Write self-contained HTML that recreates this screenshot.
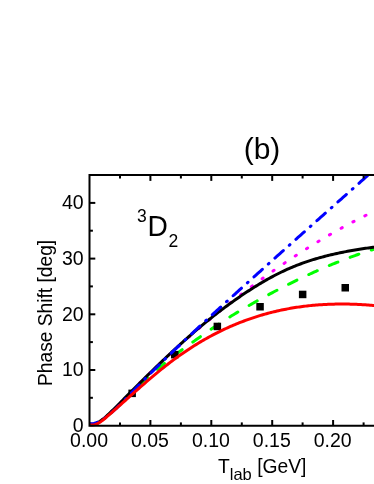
<!DOCTYPE html>
<html><head><meta charset="utf-8"><title>3D2 phase shift</title>
<style>
html,body{margin:0;padding:0;background:#fff;}
body{width:374px;height:484px;overflow:hidden;}
svg{display:block;will-change:transform;}
text{font-family:"Liberation Sans",sans-serif;fill:#000;}
</style></head>
<body>
<svg width="374" height="484" viewBox="0 0 374 484">
<defs><clipPath id="c"><rect x="89.5" y="175.1" width="300" height="252.2"/></clipPath></defs>
<g clip-path="url(#c)" fill="none" stroke-width="3" stroke-linejoin="round">
<path d="M89.5,424.04 L91.0,424.17 L92.5,424.11 L94.0,423.87 L95.5,423.46 L97.0,422.90 L98.5,422.19 L100.0,421.36 L101.5,420.40 L103.0,419.34 L104.5,418.18 L106.0,416.94 L107.5,415.63 L109.0,414.26 L110.5,412.84 L112.0,411.38 L113.5,409.87 L115.0,408.34 L116.5,406.78 L118.0,405.21 L119.5,403.63 L121.0,402.06 L122.5,400.49 L124.0,398.92 L125.5,397.36 L127.0,395.81 L128.5,394.27 L130.0,392.73 L131.5,391.20 L133.0,389.67 L134.5,388.15 L136.0,386.64 L137.5,385.14 L139.0,383.64 L140.5,382.14 L142.0,380.66 L143.5,379.18 L145.0,377.70 L146.5,376.24 L148.0,374.78 L149.5,373.32 L151.0,371.87 L152.5,370.43 L154.0,368.99 L155.5,367.56 L157.0,366.13 L158.5,364.71 L160.0,363.30 L161.5,361.89 L163.0,360.49 L164.5,359.09 L166.0,357.70 L167.5,356.32 L169.0,354.94 L170.5,353.56 L172.0,352.20 L173.5,350.83 L175.0,349.48 L176.5,348.12 L178.0,346.78 L179.5,345.43 L181.0,344.10 L182.5,342.77 L184.0,341.44 L185.5,340.12 L187.0,338.80 L188.5,337.49 L190.0,336.19 L191.5,334.89 L193.0,333.59 L194.5,332.30 L196.0,331.01 L197.5,329.73 L199.0,328.45 L200.5,327.18 L202.0,325.92 L203.5,324.65 L205.0,323.39 L206.5,322.14 L208.0,320.89 L209.5,319.65 L211.0,318.41 L212.5,317.17 L214.0,315.94 L215.5,314.71 L217.0,313.49 L218.5,312.27 L220.0,311.06 L221.5,309.85 L223.0,308.64 L224.5,307.44 L226.0,306.25 L227.5,305.05 L229.0,303.87 L230.5,302.68 L232.0,301.51 L233.5,300.33 L235.0,299.16 L236.5,298.00 L238.0,296.84 L239.5,295.68 L241.0,294.53 L242.5,293.38 L244.0,292.24 L245.5,291.10 L247.0,289.97 L248.5,288.84 L250.0,287.71 L251.5,286.59 L253.0,285.48 L254.5,284.37 L256.0,283.26 L257.5,282.16 L259.0,281.07 L260.5,279.97 L262.0,278.89 L263.5,277.80 L265.0,276.72 L266.5,275.65 L268.0,274.58 L269.5,273.52 L271.0,272.46 L272.5,271.40 L274.0,270.35 L275.5,269.31 L277.0,268.27 L278.5,267.23 L280.0,266.20 L281.5,265.17 L283.0,264.15 L284.5,263.13 L286.0,262.12 L287.5,261.11 L289.0,260.11 L290.5,259.11 L292.0,258.12 L293.5,257.13 L295.0,256.15 L296.5,255.17 L298.0,254.19 L299.5,253.22 L301.0,252.26 L302.5,251.30 L304.0,250.34 L305.5,249.39 L307.0,248.45 L308.5,247.51 L310.0,246.57 L311.5,245.64 L313.0,244.72 L314.5,243.80 L316.0,242.88 L317.5,241.97 L319.0,241.07 L320.5,240.16 L322.0,239.27 L323.5,238.38 L325.0,237.49 L326.5,236.61 L328.0,235.73 L329.5,234.86 L331.0,234.00 L332.5,233.14 L334.0,232.28 L335.5,231.43 L337.0,230.58 L338.5,229.74 L340.0,228.91 L341.5,228.08 L343.0,227.25 L344.5,226.43 L346.0,225.61 L347.5,224.80 L349.0,224.00 L350.5,223.20 L352.0,222.40 L353.5,221.61 L355.0,220.83 L356.5,220.05 L358.0,219.27 L359.5,218.50 L361.0,217.74 L362.5,216.98 L364.0,216.23 L365.5,215.48 L367.0,214.73 L368.5,214.00 L370.0,213.26 L371.5,212.54 L373.0,211.81 L374.5,211.09 L376.0,210.38 L377.5,209.68" stroke="#ff00ff" stroke-linecap="round" stroke-dasharray="1.3 12.1" stroke-dashoffset="0.5"/>
<path d="M89.5,424.39 L91.0,424.58 L92.5,424.54 L94.0,424.32 L95.5,423.91 L97.0,423.34 L98.5,422.61 L100.0,421.76 L101.5,420.78 L103.0,419.69 L104.5,418.52 L106.0,417.26 L107.5,415.94 L109.0,414.56 L110.5,413.13 L112.0,411.67 L113.5,410.19 L115.0,408.70 L116.5,407.21 L118.0,405.72 L119.5,404.25 L121.0,402.79 L122.5,401.34 L124.0,399.90 L125.5,398.46 L127.0,397.04 L128.5,395.62 L130.0,394.20 L131.5,392.80 L133.0,391.40 L134.5,390.00 L136.0,388.61 L137.5,387.23 L139.0,385.84 L140.5,384.47 L142.0,383.09 L143.5,381.72 L145.0,380.36 L146.5,379.00 L148.0,377.64 L149.5,376.29 L151.0,374.95 L152.5,373.61 L154.0,372.28 L155.5,370.96 L157.0,369.66 L158.5,368.36 L160.0,367.07 L161.5,365.79 L163.0,364.53 L164.5,363.28 L166.0,362.05 L167.5,360.82 L169.0,359.62 L170.5,358.43 L172.0,357.26 L173.5,356.10 L175.0,354.96 L176.5,353.83 L178.0,352.72 L179.5,351.62 L181.0,350.52 L182.5,349.44 L184.0,348.36 L185.5,347.28 L187.0,346.21 L188.5,345.14 L190.0,344.08 L191.5,343.02 L193.0,341.95 L194.5,340.89 L196.0,339.83 L197.5,338.76 L199.0,337.69 L200.5,336.62 L202.0,335.56 L203.5,334.49 L205.0,333.43 L206.5,332.37 L208.0,331.32 L209.5,330.28 L211.0,329.24 L212.5,328.21 L214.0,327.19 L215.5,326.18 L217.0,325.18 L218.5,324.19 L220.0,323.20 L221.5,322.22 L223.0,321.25 L224.5,320.29 L226.0,319.34 L227.5,318.39 L229.0,317.45 L230.5,316.52 L232.0,315.59 L233.5,314.67 L235.0,313.76 L236.5,312.85 L238.0,311.95 L239.5,311.06 L241.0,310.17 L242.5,309.28 L244.0,308.41 L245.5,307.53 L247.0,306.67 L248.5,305.80 L250.0,304.95 L251.5,304.09 L253.0,303.24 L254.5,302.40 L256.0,301.56 L257.5,300.72 L259.0,299.89 L260.5,299.06 L262.0,298.24 L263.5,297.42 L265.0,296.60 L266.5,295.78 L268.0,294.98 L269.5,294.17 L271.0,293.37 L272.5,292.57 L274.0,291.78 L275.5,290.99 L277.0,290.20 L278.5,289.42 L280.0,288.64 L281.5,287.87 L283.0,287.10 L284.5,286.33 L286.0,285.57 L287.5,284.82 L289.0,284.06 L290.5,283.31 L292.0,282.57 L293.5,281.83 L295.0,281.10 L296.5,280.37 L298.0,279.64 L299.5,278.92 L301.0,278.20 L302.5,277.49 L304.0,276.78 L305.5,276.07 L307.0,275.37 L308.5,274.68 L310.0,273.99 L311.5,273.30 L313.0,272.62 L314.5,271.95 L316.0,271.28 L317.5,270.61 L319.0,269.95 L320.5,269.29 L322.0,268.64 L323.5,267.99 L325.0,267.35 L326.5,266.71 L328.0,266.08 L329.5,265.45 L331.0,264.83 L332.5,264.21 L334.0,263.60 L335.5,262.99 L337.0,262.39 L338.5,261.79 L340.0,261.20 L341.5,260.61 L343.0,260.03 L344.5,259.45 L346.0,258.88 L347.5,258.31 L349.0,257.75 L350.5,257.20 L352.0,256.65 L353.5,256.10 L355.0,255.56 L356.5,255.03 L358.0,254.50 L359.5,253.98 L361.0,253.46 L362.5,252.95 L364.0,252.44 L365.5,251.94 L367.0,251.44 L368.5,250.95 L370.0,250.47 L371.5,249.99 L373.0,249.52 L374.5,249.05 L376.0,248.59 L377.5,248.14" stroke="#00ff00" stroke-linecap="round" stroke-dasharray="9.3 13.1" stroke-dashoffset="0.8"/>
<g fill="#000" stroke="none"><rect x="128.4" y="389.6" width="7.5" height="7.5"/><rect x="171.0" y="350.9" width="7.5" height="7.5"/><rect x="213.6" y="322.7" width="7.5" height="7.5"/><rect x="256.3" y="303.0" width="7.5" height="7.5"/><rect x="298.9" y="290.7" width="7.5" height="7.5"/><rect x="341.5" y="284.0" width="7.5" height="7.5"/></g>
<path d="M89.5,423.96 L91.0,424.20 L92.5,424.20 L94.0,423.97 L95.5,423.54 L97.0,422.93 L98.5,422.16 L100.0,421.25 L101.5,420.20 L103.0,419.06 L104.5,417.83 L106.0,416.53 L107.5,415.18 L109.0,413.80 L110.5,412.39 L112.0,410.94 L113.5,409.48 L115.0,408.00 L116.5,406.50 L118.0,404.99 L119.5,403.47 L121.0,401.96 L122.5,400.44 L124.0,398.92 L125.5,397.41 L127.0,395.89 L128.5,394.38 L130.0,392.87 L131.5,391.36 L133.0,389.86 L134.5,388.35 L136.0,386.85 L137.5,385.35 L139.0,383.86 L140.5,382.36 L142.0,380.87 L143.5,379.39 L145.0,377.90 L146.5,376.42 L148.0,374.94 L149.5,373.47 L151.0,372.00 L152.5,370.54 L154.0,369.08 L155.5,367.62 L157.0,366.17 L158.5,364.72 L160.0,363.28 L161.5,361.84 L163.0,360.40 L164.5,358.98 L166.0,357.55 L167.5,356.14 L169.0,354.72 L170.5,353.32 L172.0,351.92 L173.5,350.52 L175.0,349.14 L176.5,347.76 L178.0,346.38 L179.5,345.01 L181.0,343.65 L182.5,342.30 L184.0,340.95 L185.5,339.61 L187.0,338.27 L188.5,336.95 L190.0,335.63 L191.5,334.32 L193.0,333.02 L194.5,331.72 L196.0,330.44 L197.5,329.16 L199.0,327.89 L200.5,326.63 L202.0,325.38 L203.5,324.13 L205.0,322.90 L206.5,321.67 L208.0,320.46 L209.5,319.25 L211.0,318.05 L212.5,316.86 L214.0,315.68 L215.5,314.50 L217.0,313.34 L218.5,312.18 L220.0,311.04 L221.5,309.90 L223.0,308.77 L224.5,307.65 L226.0,306.53 L227.5,305.43 L229.0,304.33 L230.5,303.25 L232.0,302.17 L233.5,301.10 L235.0,300.04 L236.5,298.98 L238.0,297.94 L239.5,296.91 L241.0,295.88 L242.5,294.86 L244.0,293.85 L245.5,292.85 L247.0,291.86 L248.5,290.88 L250.0,289.90 L251.5,288.94 L253.0,287.99 L254.5,287.04 L256.0,286.11 L257.5,285.18 L259.0,284.27 L260.5,283.37 L262.0,282.48 L263.5,281.60 L265.0,280.73 L266.5,279.87 L268.0,279.03 L269.5,278.20 L271.0,277.38 L272.5,276.57 L274.0,275.77 L275.5,274.99 L277.0,274.22 L278.5,273.47 L280.0,272.73 L281.5,272.00 L283.0,271.28 L284.5,270.58 L286.0,269.90 L287.5,269.22 L289.0,268.57 L290.5,267.92 L292.0,267.29 L293.5,266.67 L295.0,266.06 L296.5,265.47 L298.0,264.88 L299.5,264.31 L301.0,263.75 L302.5,263.21 L304.0,262.67 L305.5,262.15 L307.0,261.64 L308.5,261.13 L310.0,260.64 L311.5,260.16 L313.0,259.69 L314.5,259.23 L316.0,258.78 L317.5,258.34 L319.0,257.91 L320.5,257.49 L322.0,257.08 L323.5,256.68 L325.0,256.29 L326.5,255.90 L328.0,255.53 L329.5,255.16 L331.0,254.80 L332.5,254.45 L334.0,254.10 L335.5,253.77 L337.0,253.44 L338.5,253.12 L340.0,252.80 L341.5,252.50 L343.0,252.20 L344.5,251.90 L346.0,251.61 L347.5,251.33 L349.0,251.05 L350.5,250.78 L352.0,250.52 L353.5,250.26 L355.0,250.00 L356.5,249.76 L358.0,249.51 L359.5,249.27 L361.0,249.03 L362.5,248.80 L364.0,248.58 L365.5,248.35 L367.0,248.13 L368.5,247.91 L370.0,247.70 L371.5,247.49 L373.0,247.28 L374.5,247.08 L376.0,246.88 L377.5,246.68" stroke="#000"/>
<path d="M89.5,423.66 L91.0,423.75 L92.5,423.67 L94.0,423.43 L95.5,423.05 L97.0,422.53 L98.5,421.88 L100.0,421.13 L101.5,420.27 L103.0,419.32 L104.5,418.28 L106.0,417.18 L107.5,416.02 L109.0,414.81 L110.5,413.55 L112.0,412.24 L113.5,410.90 L115.0,409.52 L116.5,408.10 L118.0,406.65 L119.5,405.17 L121.0,403.67 L122.5,402.16 L124.0,400.62 L125.5,399.07 L127.0,397.51 L128.5,395.95 L130.0,394.38 L131.5,392.82 L133.0,391.25 L134.5,389.70 L136.0,388.15 L137.5,386.60 L139.0,385.06 L140.5,383.53 L142.0,382.00 L143.5,380.47 L145.0,378.96 L146.5,377.44 L148.0,375.93 L149.5,374.43 L151.0,372.93 L152.5,371.43 L154.0,369.94 L155.5,368.46 L157.0,366.97 L158.5,365.50 L160.0,364.02 L161.5,362.55 L163.0,361.09 L164.5,359.63 L166.0,358.17 L167.5,356.72 L169.0,355.27 L170.5,353.82 L172.0,352.38 L173.5,350.94 L175.0,349.51 L176.5,348.07 L178.0,346.65 L179.5,345.22 L181.0,343.80 L182.5,342.38 L184.0,340.96 L185.5,339.55 L187.0,338.14 L188.5,336.73 L190.0,335.33 L191.5,333.93 L193.0,332.53 L194.5,331.13 L196.0,329.73 L197.5,328.34 L199.0,326.95 L200.5,325.56 L202.0,324.17 L203.5,322.79 L205.0,321.41 L206.5,320.03 L208.0,318.65 L209.5,317.27 L211.0,315.89 L212.5,314.52 L214.0,313.14 L215.5,311.77 L217.0,310.40 L218.5,309.03 L220.0,307.66 L221.5,306.30 L223.0,304.93 L224.5,303.56 L226.0,302.20 L227.5,300.84 L229.0,299.47 L230.5,298.11 L232.0,296.75 L233.5,295.39 L235.0,294.03 L236.5,292.67 L238.0,291.31 L239.5,289.95 L241.0,288.60 L242.5,287.24 L244.0,285.89 L245.5,284.53 L247.0,283.18 L248.5,281.83 L250.0,280.47 L251.5,279.12 L253.0,277.77 L254.5,276.42 L256.0,275.07 L257.5,273.72 L259.0,272.37 L260.5,271.03 L262.0,269.68 L263.5,268.33 L265.0,266.99 L266.5,265.64 L268.0,264.30 L269.5,262.95 L271.0,261.61 L272.5,260.26 L274.0,258.92 L275.5,257.58 L277.0,256.24 L278.5,254.90 L280.0,253.56 L281.5,252.21 L283.0,250.87 L284.5,249.53 L286.0,248.20 L287.5,246.86 L289.0,245.52 L290.5,244.18 L292.0,242.84 L293.5,241.50 L295.0,240.17 L296.5,238.83 L298.0,237.49 L299.5,236.16 L301.0,234.82 L302.5,233.49 L304.0,232.15 L305.5,230.82 L307.0,229.48 L308.5,228.15 L310.0,226.81 L311.5,225.48 L313.0,224.14 L314.5,222.81 L316.0,221.48 L317.5,220.14 L319.0,218.81 L320.5,217.47 L322.0,216.14 L323.5,214.81 L325.0,213.47 L326.5,212.14 L328.0,210.81 L329.5,209.48 L331.0,208.14 L332.5,206.81 L334.0,205.48 L335.5,204.14 L337.0,202.81 L338.5,201.48 L340.0,200.14 L341.5,198.81 L343.0,197.48 L344.5,196.15 L346.0,194.81 L347.5,193.48 L349.0,192.14 L350.5,190.81 L352.0,189.48 L353.5,188.14 L355.0,186.81 L356.5,185.47 L358.0,184.14 L359.5,182.81 L361.0,181.47 L362.5,180.14 L364.0,178.80 L365.5,177.46 L367.0,176.13 L368.5,174.79 L370.0,173.46 L371.5,172.12 L373.0,170.78 L374.5,169.45 L376.0,168.11 L377.5,166.77" stroke="#0000ff" stroke-linecap="round" stroke-dasharray="11.3 7.96 0.9 7.97" stroke-dashoffset="2.9"/>
<path d="M89.5,424.86 L91.0,425.09 L92.5,425.08 L94.0,424.87 L95.5,424.45 L97.0,423.85 L98.5,423.08 L100.0,422.16 L101.5,421.12 L103.0,419.98 L104.5,418.76 L106.0,417.50 L107.5,416.21 L109.0,414.92 L110.5,413.61 L112.0,412.30 L113.5,410.97 L115.0,409.65 L116.5,408.31 L118.0,406.97 L119.5,405.63 L121.0,404.29 L122.5,402.95 L124.0,401.60 L125.5,400.26 L127.0,398.92 L128.5,397.58 L130.0,396.24 L131.5,394.90 L133.0,393.56 L134.5,392.23 L136.0,390.90 L137.5,389.57 L139.0,388.25 L140.5,386.93 L142.0,385.62 L143.5,384.31 L145.0,383.01 L146.5,381.71 L148.0,380.42 L149.5,379.14 L151.0,377.86 L152.5,376.60 L154.0,375.34 L155.5,374.09 L157.0,372.85 L158.5,371.62 L160.0,370.39 L161.5,369.18 L163.0,367.98 L164.5,366.80 L166.0,365.62 L167.5,364.45 L169.0,363.30 L170.5,362.16 L172.0,361.03 L173.5,359.91 L175.0,358.81 L176.5,357.71 L178.0,356.63 L179.5,355.56 L181.0,354.51 L182.5,353.46 L184.0,352.43 L185.5,351.41 L187.0,350.40 L188.5,349.41 L190.0,348.43 L191.5,347.46 L193.0,346.50 L194.5,345.56 L196.0,344.62 L197.5,343.70 L199.0,342.80 L200.5,341.90 L202.0,341.02 L203.5,340.15 L205.0,339.29 L206.5,338.44 L208.0,337.61 L209.5,336.78 L211.0,335.97 L212.5,335.17 L214.0,334.38 L215.5,333.61 L217.0,332.84 L218.5,332.09 L220.0,331.35 L221.5,330.61 L223.0,329.90 L224.5,329.19 L226.0,328.49 L227.5,327.81 L229.0,327.13 L230.5,326.47 L232.0,325.81 L233.5,325.17 L235.0,324.54 L236.5,323.92 L238.0,323.31 L239.5,322.71 L241.0,322.13 L242.5,321.55 L244.0,320.98 L245.5,320.43 L247.0,319.88 L248.5,319.35 L250.0,318.82 L251.5,318.31 L253.0,317.80 L254.5,317.31 L256.0,316.82 L257.5,316.35 L259.0,315.88 L260.5,315.43 L262.0,314.99 L263.5,314.55 L265.0,314.13 L266.5,313.71 L268.0,313.31 L269.5,312.91 L271.0,312.52 L272.5,312.15 L274.0,311.78 L275.5,311.42 L277.0,311.07 L278.5,310.73 L280.0,310.40 L281.5,310.08 L283.0,309.77 L284.5,309.46 L286.0,309.17 L287.5,308.88 L289.0,308.61 L290.5,308.34 L292.0,308.08 L293.5,307.83 L295.0,307.59 L296.5,307.35 L298.0,307.13 L299.5,306.91 L301.0,306.70 L302.5,306.50 L304.0,306.31 L305.5,306.13 L307.0,305.95 L308.5,305.78 L310.0,305.63 L311.5,305.47 L313.0,305.33 L314.5,305.20 L316.0,305.07 L317.5,304.95 L319.0,304.84 L320.5,304.73 L322.0,304.64 L323.5,304.55 L325.0,304.46 L326.5,304.39 L328.0,304.32 L329.5,304.26 L331.0,304.21 L332.5,304.17 L334.0,304.13 L335.5,304.10 L337.0,304.07 L338.5,304.05 L340.0,304.04 L341.5,304.04 L343.0,304.04 L344.5,304.05 L346.0,304.07 L347.5,304.09 L349.0,304.12 L350.5,304.16 L352.0,304.20 L353.5,304.25 L355.0,304.31 L356.5,304.37 L358.0,304.44 L359.5,304.51 L361.0,304.59 L362.5,304.68 L364.0,304.77 L365.5,304.87 L367.0,304.97 L368.5,305.08 L370.0,305.20 L371.5,305.32 L373.0,305.45 L374.5,305.58 L376.0,305.72 L377.5,305.86" stroke="#ff0000"/>
</g>
<g stroke="#000" stroke-width="2" fill="none">
<path d="M380,175.1 H89.5 V425.8 H380" stroke-linecap="square"/>
<line x1="120.0" y1="425.8" x2="120.0" y2="422.40000000000003"/><line x1="120.0" y1="175.1" x2="120.0" y2="178.5"/><line x1="150.4" y1="425.8" x2="150.4" y2="420.0"/><line x1="150.4" y1="175.1" x2="150.4" y2="180.9"/><line x1="180.9" y1="425.8" x2="180.9" y2="422.40000000000003"/><line x1="180.9" y1="175.1" x2="180.9" y2="178.5"/><line x1="211.3" y1="425.8" x2="211.3" y2="420.0"/><line x1="211.3" y1="175.1" x2="211.3" y2="180.9"/><line x1="241.8" y1="425.8" x2="241.8" y2="422.40000000000003"/><line x1="241.8" y1="175.1" x2="241.8" y2="178.5"/><line x1="272.2" y1="425.8" x2="272.2" y2="420.0"/><line x1="272.2" y1="175.1" x2="272.2" y2="180.9"/><line x1="302.6" y1="425.8" x2="302.6" y2="422.40000000000003"/><line x1="302.6" y1="175.1" x2="302.6" y2="178.5"/><line x1="333.1" y1="425.8" x2="333.1" y2="420.0"/><line x1="333.1" y1="175.1" x2="333.1" y2="180.9"/><line x1="363.6" y1="425.8" x2="363.6" y2="422.40000000000003"/><line x1="363.6" y1="175.1" x2="363.6" y2="178.5"/><line x1="89.5" y1="397.8" x2="92.9" y2="397.8"/><line x1="89.5" y1="370.0" x2="95.3" y2="370.0"/><line x1="89.5" y1="342.1" x2="92.9" y2="342.1"/><line x1="89.5" y1="314.3" x2="95.3" y2="314.3"/><line x1="89.5" y1="286.4" x2="92.9" y2="286.4"/><line x1="89.5" y1="258.6" x2="95.3" y2="258.6"/><line x1="89.5" y1="230.7" x2="92.9" y2="230.7"/><line x1="89.5" y1="202.9" x2="95.3" y2="202.9"/>
</g>
<g>
<g font-size="19.5px"><text x="89.1" y="446.7" text-anchor="middle">0.00</text><text x="150.0" y="446.7" text-anchor="middle">0.05</text><text x="210.9" y="446.7" text-anchor="middle">0.10</text><text x="271.8" y="446.7" text-anchor="middle">0.15</text><text x="332.7" y="446.7" text-anchor="middle">0.20</text><text x="83.6" y="432.1" text-anchor="end">0</text><text x="83.6" y="376.4" text-anchor="end">10</text><text x="83.6" y="320.7" text-anchor="end">20</text><text x="83.6" y="265.0" text-anchor="end">30</text><text x="83.6" y="209.3" text-anchor="end">40</text></g>
<text x="262" y="158.5" font-size="30px" text-anchor="middle">(b)</text>
<text transform="translate(147.6,236) scale(0.93,1)" font-size="30.3px">D</text>
<text x="137" y="221.8" font-size="17.5px">3</text>
<text x="168.5" y="246.8" font-size="17.5px">2</text>
<text transform="translate(52.1,386) rotate(-90)" font-size="19.8px" textLength="146.2" lengthAdjust="spacingAndGlyphs">Phase Shift [deg]</text>
<text x="218" y="473" font-size="19.3px">T<tspan font-size="16.5px" dy="6.9">lab</tspan><tspan dy="-6.9"> [GeV]</tspan></text>
</g>
</svg>
</body></html>
